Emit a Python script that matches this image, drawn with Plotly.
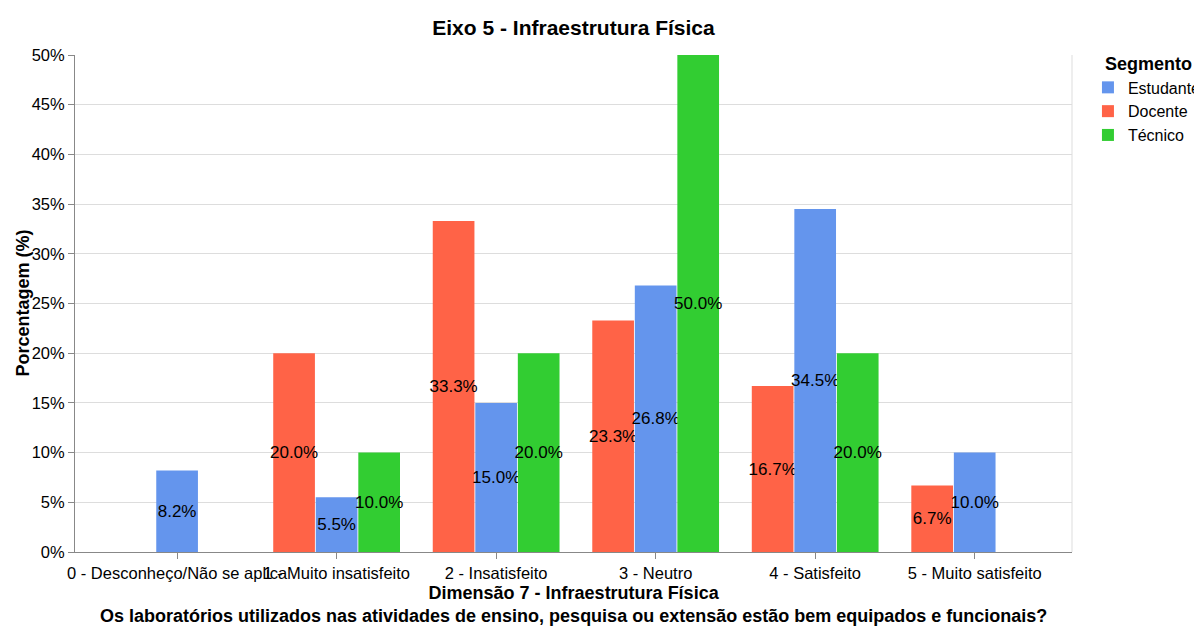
import plotly.graph_objects as go

categorias = ["0 - Desconheço/Não se aplica", "1 - Muito insatisfeito", "2 - Insatisfeito",
              "3 - Neutro", "4 - Satisfeito", "5 - Muito satisfeito"]
docente = [None, 20.0, 33.3, 23.3, 16.7, 6.7]
estudante = [8.2, 5.5, 15.0, 26.8, 34.5, 10.0]
tecnico = [None, 10.0, 20.0, 50.0, 20.0, None]

FONT = "Liberation Sans, Arial, sans-serif"

fig = go.Figure()

# ordem das barras dentro do grupo: Docente, Estudante, Técnico
series = [
    ("Docente", docente, "#FF6347", 2),
    ("Estudante", estudante, "#6495ED", 1),
    ("Técnico", tecnico, "#32CD32", 3),
]
for nome, vals, cor, rank in series:
    fig.add_trace(go.Bar(
        x=categorias,
        y=[v / 100 if v is not None else None for v in vals],
        name=nome,
        marker_color=cor,
        marker_line_width=0,
        text=[f"{v:.1f}%" if v is not None else "" for v in vals],
        textposition="inside",
        insidetextanchor="middle",
        constraintext="none",
        textangle=0,
        insidetextfont=dict(color="black", size=17, family=FONT),
        legendrank=rank,
    ))

# a página tem 8px de margem no body, por isso a figura é 8px menor
fig.update_layout(
    width=1194, height=618,
    barmode="group",
    bargap=0.2, bargroupgap=0.02,
    plot_bgcolor="white", paper_bgcolor="white",
    margin=dict(l=67, r=130, t=47, b=74, autoexpand=False),
    font=dict(family=FONT, size=16, color="#000"),
    title=dict(text="<b>Eixo 5 - Infraestrutura Física</b>", x=0.5, xref="paper",
               y=1 - 20 / 618, yanchor="middle", font=dict(size=21, color="black")),
    legend=dict(title=dict(text="<b>\u00a0\u00a0\u00a0Segmento</b>", font=dict(size=18, color="black")),
                x=1.016, xanchor="left", y=1.016, yanchor="top",
                entrywidth=70,
                font=dict(size=16, color="#000"), tracegroupgap=0),
)

fig.update_xaxes(
    range=[-0.64, 5.61],
    tickangle=0,
    automargin=False,
    showline=True, linecolor="#888", linewidth=1,
    ticks="outside", tickcolor="#888", ticklen=6,
    tickfont=dict(size=16.5, color="#000"),
    showgrid=False,
)
fig.update_yaxes(
    range=[0, 0.5],
    automargin=False,
    tickformat=".0%", dtick=0.05,
    showline=True, linecolor="#888", linewidth=1,
    ticks="outside", tickcolor="#888", ticklen=6,
    tickfont=dict(size=16.5, color="#000"),
    showgrid=True, gridcolor="#ddd",
    zeroline=False,
)

# títulos dos eixos
fig.add_annotation(
    text="<b>Dimensão 7 - Infraestrutura Física<br>Os laboratórios utilizados nas atividades de ensino, pesquisa ou extensão estão bem equipados e funcionais?</b>",
    xref="paper", yref="paper", x=0.5, y=-52.5 / 497, xanchor="center", yanchor="middle",
    showarrow=False, font=dict(size=18, color="black"),
)
fig.add_annotation(
    text="<b>Porcentagem (%)</b>", textangle=-90,
    xref="paper", yref="paper", x=-53 / 997, y=0.5, xanchor="center", yanchor="middle",
    showarrow=False, font=dict(size=18, color="black"),
)

# borda direita da área do gráfico
fig.add_shape(type="line", xref="paper", yref="paper", x0=1, x1=1, y0=0, y1=1,
              line=dict(color="#ddd", width=1))

fig.write_html("out.html")
